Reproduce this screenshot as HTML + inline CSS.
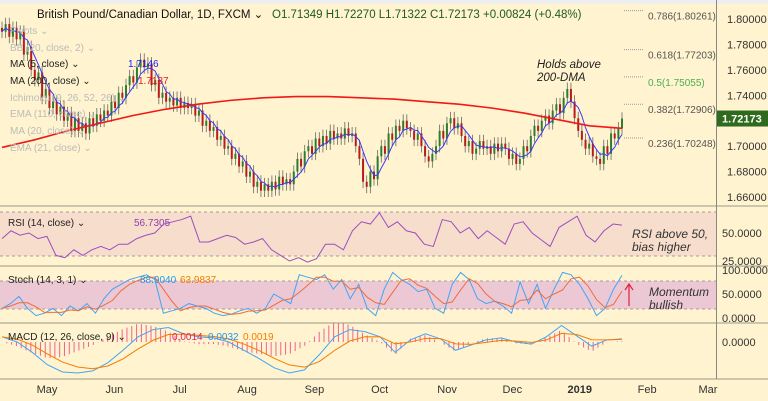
<!DOCTYPE html>
<html><head><meta charset="utf-8">
<style>
body{margin:0;background:#fff;font-family:"Liberation Sans",sans-serif;}
svg{display:block}
text{font-family:"Liberation Sans",sans-serif}
</style></head>
<body>
<svg id="c" width="768" height="401" viewBox="0 0 768 401" xmlns="http://www.w3.org/2000/svg">
<rect x="0" y="0" width="768" height="401" fill="#fff4cf"/>
<rect x="0" y="0" width="768" height="4" fill="#eee"/>
<rect x="0" y="212" width="716" height="44" fill="#f7ddcc"/>
<rect x="0" y="281" width="716" height="28" fill="#ecc8d5"/>
<g id="lines"></g>
<g id="marks"></g>
<g id="labels" font-size="11" fill="#333"></g>
<text x="37" y="18" font-size="11.5" fill="#111">British Pound/Canadian Dollar, 1D, FXCM ⌄</text>
<text x="272" y="18" font-size="11.5" fill="#1e5a1e">O1.71349  H1.72270  L1.71322  C1.72173  +0.00824 (+0.48%)</text>
<text x="10" y="34" font-size="10" fill="#bbb">Pivots ⌄</text>
<text x="10" y="51" font-size="10" fill="#bbb">BB (20, close, 2) ⌄</text>
<text x="10" y="67" font-size="10" fill="#222">MA (5, close) ⌄</text>
<text x="128" y="67" font-size="10" fill="#1a1aff">1.7146</text>
<text x="10" y="84" font-size="10" fill="#222">MA (200, close) ⌄</text>
<text x="138" y="84" font-size="10" fill="#e02020">1.7137</text>
<text x="10" y="101" font-size="10" fill="#bbb">Ichimoku (9, 26, 52, 26) ⌄</text>
<text x="10" y="117" font-size="10" fill="#bbb">EMA (110, close) ⌄</text>
<text x="10" y="134" font-size="10" fill="#bbb">MA (20, close) ⌄</text>
<text x="10" y="151" font-size="10" fill="#bbb">EMA (21, close) ⌄</text>
<text x="8" y="226" font-size="10" fill="#222">RSI (14, close) ⌄</text>
<text x="134" y="226" font-size="10" fill="#8e3fae">56.7305</text>
<text x="8" y="283" font-size="10" fill="#222">Stoch (14, 3, 1) ⌄</text>
<text x="140" y="283" font-size="10" fill="#2196f3">88.9040</text>
<text x="180" y="283" font-size="10" fill="#f57c00">63.9837</text>
<text x="8" y="340" font-size="10" fill="#222">MACD (12, 26, close, 9) ⌄</text>
<text x="172" y="340" font-size="10" fill="#e91e63">0.0014</text>
<text x="208" y="340" font-size="10" fill="#2196f3">0.0032</text>
<text x="243" y="340" font-size="10" fill="#f57c00">0.0019</text>
<text x="537" y="68" font-size="11.5" font-style="italic" fill="#222">Holds above</text>
<text x="537" y="81" font-size="11.5" font-style="italic" fill="#222">200-DMA</text>
<text x="632" y="238" font-size="12" font-style="italic" fill="#333">RSI above 50,</text>
<text x="632" y="251" font-size="12" font-style="italic" fill="#333">bias higher</text>
<text x="649" y="296" font-size="12" font-style="italic" fill="#333">Momentum</text>
<text x="649" y="309" font-size="12" font-style="italic" fill="#333">bullish</text>
<line x1="629" y1="306" x2="629" y2="285" stroke="#e0203a" stroke-width="1.2"/>
<path d="M625 290 L629 284 L633 290" fill="none" stroke="#e0203a" stroke-width="1.2"/>
</svg>
<script>
const closes=[1.790,1.796,1.786,1.793,1.784,1.790,1.772,1.778,1.760,1.752,1.758,1.738,1.745,1.730,1.735,1.725,1.731,1.720,1.726,1.712,1.722,1.712,1.718,1.710,1.722,1.716,1.725,1.720,1.728,1.724,1.735,1.730,1.742,1.738,1.748,1.755,1.750,1.762,1.768,1.762,1.765,1.748,1.752,1.738,1.742,1.735,1.738,1.732,1.738,1.730,1.734,1.730,1.733,1.724,1.728,1.716,1.720,1.712,1.715,1.705,1.708,1.698,1.700,1.690,1.694,1.684,1.688,1.676,1.680,1.668,1.672,1.665,1.670,1.665,1.672,1.666,1.676,1.670,1.674,1.670,1.680,1.690,1.684,1.696,1.700,1.694,1.706,1.700,1.708,1.702,1.712,1.706,1.710,1.706,1.714,1.708,1.710,1.700,1.690,1.672,1.668,1.680,1.674,1.692,1.700,1.694,1.710,1.705,1.716,1.712,1.720,1.714,1.712,1.705,1.710,1.700,1.692,1.688,1.694,1.700,1.712,1.706,1.718,1.722,1.714,1.718,1.708,1.700,1.704,1.694,1.698,1.704,1.698,1.700,1.694,1.702,1.696,1.702,1.698,1.690,1.694,1.686,1.690,1.700,1.696,1.708,1.716,1.712,1.720,1.724,1.718,1.728,1.733,1.726,1.738,1.745,1.735,1.722,1.712,1.705,1.698,1.702,1.692,1.690,1.686,1.700,1.694,1.710,1.706,1.714,1.7217];
const ma200=[1.699,1.705,1.712,1.718,1.724,1.729,1.733,1.736,1.738,1.739,1.739,1.738,1.737,1.735,1.733,1.730,1.726,1.721,1.716,1.714];
const rsi=[45,52,48,50,45,47,30,28,35,30,35,38,35,40,40,45,48,50,58,60,62,65,42,42,45,48,46,40,42,45,35,30,25,28,24,27,40,40,35,52,60,58,68,55,60,52,50,40,38,62,60,50,55,45,52,46,40,58,60,50,44,38,55,60,65,48,42,52,58,57];
const stochK=[20,30,45,20,5,10,20,5,25,15,30,10,40,60,70,80,85,90,80,10,15,20,30,25,20,10,5,8,15,20,10,20,50,40,30,90,85,80,90,60,80,40,70,20,5,60,95,80,70,55,60,20,10,70,95,80,40,30,35,25,10,75,30,70,20,60,95,90,70,40,5,20,60,89];
const macd=[0.005,0,-0.01,-0.022,-0.029,-0.03,-0.028,-0.02,-0.008,0.005,0.012,0.014,0.008,0.005,0.004,0,-0.008,-0.016,-0.025,-0.03,-0.027,-0.012,0.005,0.012,0.01,0.005,-0.01,0.002,0.008,0.003,-0.008,-0.003,0.002,0.004,0,-0.002,0.005,0.016,0.006,-0.004,0.002,0.003];
const priceTicks=[1.80,1.78,1.76,1.74,1.70,1.68,1.66];
const fibLevels=[0.786,0.618,0.5,0.382,0.236];
const fibPrices=[1.80261,1.77203,1.75055,1.72906,1.70248];
const months=["May","Jun","Jul","Aug","Sep","Oct","Nov","Dec","2019","Feb","Mar"];
const monthDays=[21,52,82,113,144,174,205,235,266,297,325];

const NS="http://www.w3.org/2000/svg";
const marks=document.getElementById('marks'),lines=document.getElementById('lines'),labels=document.getElementById('labels');
function mk(tag,attrs,parent){const e=document.createElementNS(NS,tag);for(const k in attrs)e.setAttribute(k,attrs[k]);parent.appendChild(e);return e;}
const X0=2,X1=622;
const xi=(i,n)=>X0+(X1-X0)*i/(n-1);
const yP=p=>19+(1.80-p)/0.02*25.43;
const yR=v=>233-(v-50)*1.12;
const yS=v=>318-v*0.48;
const yM=v=>342-v*1033;
const xDay=d=>47+(d-21)*(661/304);

[206,266,323,379].forEach(y=>{const l=mk('line',{x1:0,x2:768,y1:y,y2:y,stroke:'#9a9a8a','stroke-width':1},lines);

});
const ax=mk('line',{x1:716.5,x2:716.5,y1:0,y2:379,stroke:'#888','stroke-width':1},lines);


[212,256,281,309].forEach(y=>{const l=mk('line',{x1:0,x2:716,y1:y,y2:y,stroke:'#a89aa0','stroke-dasharray':'3,3'},lines);

});

priceTicks.forEach(p=>{const t=mk('text',{x:727,y:yP(p)+4,'font-size':11},labels);t.textContent=p.toFixed(5);

});
[[yR(50),'50.0000'],[yR(25),'25.0000'],[yS(100),'100.0000'],[yS(50),'50.0000'],[yS(0),'0.0000'],[yM(0),'0.0000']].forEach(a=>{const t=mk('text',{x:722,y:a[0]+4,'font-size':11},labels);t.textContent=a[1];

});
months.forEach((m,i)=>{const t=mk('text',{x:xDay(monthDays[i]),y:393,'font-size':11,'text-anchor':'middle','font-weight':m==='2019'?'bold':'normal'},labels);t.textContent=m;

});

fibLevels.forEach((f,i)=>{const y=yP(fibPrices[i]);
const l=mk('line',{x1:624,x2:643,y1:y-5,y2:y-5,stroke:'#999','stroke-dasharray':'1,1'},lines);


const t=mk('text',{x:648,y:y+4,'font-size':10,fill:f===0.5?'#4caf50':'#555'},labels);t.textContent=f+'('+fibPrices[i].toFixed(5)+')';

});

const n=closes.length,w=2;
for(let i=0;i<n;i++){const o=i?closes[i-1]:closes[0]+0.003,c=closes[i];const up=c>=o;const col=up?'#2e7d2e':'#b71c1c';
const x=xi(i,n);const hi=Math.max(o,c)+0.005,lo=Math.min(o,c)-0.005;
const wk=mk('line',{x1:x,x2:x,y1:yP(hi),y2:yP(lo),stroke:'#666','stroke-width':0.8},marks);


const b=mk('rect',{x:x-w/2,y:yP(Math.max(o,c)),width:w,height:Math.max(1,Math.abs(yP(o)-yP(c))),fill:col},marks);

}
let pts=[];for(let i=0;i<n;i++){let s=0,k=0;for(let j=Math.max(0,i-4);j<=i;j++){s+=closes[j];k++;}pts.push(xi(i,n)+','+yP(s/k));}
const m5=mk('polyline',{points:pts.join(' '),fill:'none',stroke:'#3a3aff','stroke-width':1},marks);


const m200=mk('polyline',{points:ma200.map((v,i)=>xi(i,ma200.length)+','+yP(v)).join(' '),fill:'none',stroke:'#f01818','stroke-width':1.6},marks);


const pl=mk('rect',{x:717,y:yP(1.72173)-8,width:51,height:16,fill:'#2e6b1e'},marks);


const plt=mk('text',{x:722,y:yP(1.72173)+4,'font-size':11,fill:'#fff','font-weight':'bold'},marks);plt.textContent='1.72173';


const rl=mk('polyline',{points:rsi.map((v,i)=>xi(i,rsi.length)+','+yR(v)).join(' '),fill:'none',stroke:'#9c4fc0','stroke-width':1},marks);


const stochD=stochK.map((v,i)=>{let s=0,k=0;for(let j=Math.max(0,i-2);j<=i;j++){s+=stochK[j];k++;}return s/k;});
const sk=mk('polyline',{points:stochK.map((v,i)=>xi(i,stochK.length)+','+yS(v)).join(' '),fill:'none',stroke:'#42a5f5','stroke-width':1},marks);


const sd=mk('polyline',{points:stochD.map((v,i)=>xi(i,stochD.length)+','+yS(v)).join(' '),fill:'none',stroke:'#ef6c3a','stroke-width':1},marks);


const sig=[];macd.forEach((v,i)=>sig.push(i?sig[i-1]+(v-sig[i-1])*0.45:v));
const nb=130;
for(let b=0;b<nb;b++){const t=b/(nb-1)*(macd.length-1);const i=Math.floor(t),f=t-i;const j=Math.min(i+1,macd.length-1);
const h=(macd[i]*(1-f)+macd[j]*f)-(sig[i]*(1-f)+sig[j]*f);const x=X0+(X1-X0)*b/(nb-1);
const r=mk('line',{x1:x,x2:x,y1:yM(0),y2:yM(h*1.5),stroke:'#f06292','stroke-width':1},marks);

}
const ml=mk('polyline',{points:macd.map((v,i)=>xi(i,macd.length)+','+yM(v)).join(' '),fill:'none',stroke:'#42a5f5','stroke-width':1},marks);


const sl=mk('polyline',{points:sig.map((v,i)=>xi(i,sig.length)+','+yM(v)).join(' '),fill:'none',stroke:'#f57c00','stroke-width':1},marks);


</script>
</body></html>
